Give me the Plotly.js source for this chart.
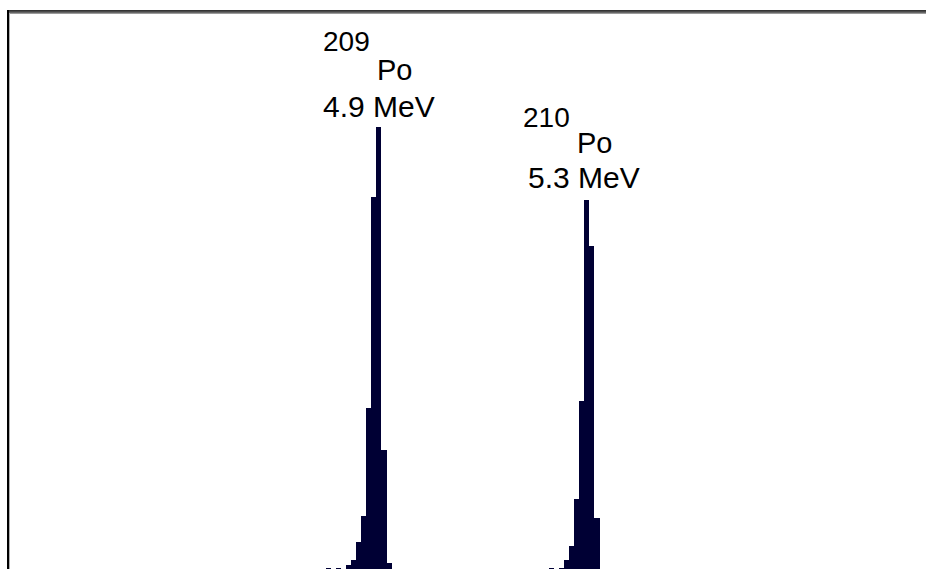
<!DOCTYPE html>
<html>
<head>
<meta charset="utf-8">
<script src="https://cdn.plot.ly/plotly-3.0.1.min.js"></script>
<style>
  html, body { margin: 0; padding: 0; background: #ffffff; }
  #chart { width: 926px; height: 569px; }
</style>
</head>
<body>
<div id="chart"></div>
<script>
// Histogram bins (MeV, bin centres) and counts
const energies = [4.78, 4.79, 4.80, 4.81, 4.82, 4.83, 4.84, 4.85, 4.86, 4.87, 4.88, 4.89, 4.90,
                  5.22, 5.23, 5.24, 5.25, 5.26, 5.27, 5.28, 5.29, 5.30, 5.31];
const counts   = [1, 0, 1, 0, 4.5, 9, 27, 53, 161, 372, 442, 119, 6,
                  1, 0, 1.5, 9, 23, 70, 168, 369, 323, 51];
const binWidth = 0.01;

// Peak labels
const isotopes   = ['209', '210'];
const element    = ['Po', 'Po'];
const peakLabels = ['4.9 MeV', '5.3 MeV'];

// label anchor positions (data coords)
const isoX   = [4.8160, 5.2105], isoY   = [528, 452];
const elemX  = [4.9097, 5.3061], elemY  = [499, 426];
const enerX  = [4.8791, 5.2844], enerY  = [462.5, 391.5];

const W = 926, H = 569;
const M = {l: 10, r: 0, t: 14, b: 0};
const PW = W - M.l - M.r, PH = H - M.t - M.b;
const px = x => (x - M.l) / PW;
const py = y => (H - M.b - y) / PH;

const font = 'Liberation Sans, Arial, sans-serif';
const annotations = [];
for (let i = 0; i < isotopes.length; i++) {
  annotations.push({x: isoX[i], y: isoY[i], xref: 'x', yref: 'y', text: isotopes[i],
    showarrow: false, xanchor: 'center', yanchor: 'middle', font: {family: font, size: 28, color: '#000'}});
  annotations.push({x: elemX[i], y: elemY[i], xref: 'x', yref: 'y', text: element[i],
    showarrow: false, xanchor: 'center', yanchor: 'middle', font: {family: font, size: 29, color: '#000'}});
  annotations.push({x: enerX[i], y: enerY[i], xref: 'x', yref: 'y', text: peakLabels[i],
    showarrow: false, xanchor: 'center', yanchor: 'middle', font: {family: font, size: 30, color: '#000'}});
}

const shapes = [
  {type: 'line', xref: 'paper', yref: 'paper', x0: px(7), x1: px(W), y0: py(10.5), y1: py(10.5), line: {color: '#333333', width: 1}},
  {type: 'line', xref: 'paper', yref: 'paper', x0: px(7), x1: px(W), y0: py(11.5), y1: py(11.5), line: {color: '#4a4a4a', width: 1}},
  {type: 'line', xref: 'paper', yref: 'paper', x0: px(7), x1: px(W), y0: py(12.5), y1: py(12.5), line: {color: '#666666', width: 1}},
  {type: 'line', xref: 'paper', yref: 'paper', x0: px(9), x1: px(W), y0: py(13.5), y1: py(13.5), line: {color: '#9a9a9a', width: 1}},
  {type: 'line', xref: 'paper', yref: 'paper', x0: px(8), x1: px(8), y0: py(10), y1: py(H), line: {color: '#000000', width: 2}},
  {type: 'line', xref: 'paper', yref: 'paper', x0: px(9.5), x1: px(9.5), y0: py(13), y1: py(H), line: {color: '#b0b0b0', width: 1}}
];

const trace = {
  type: 'bar', x: energies, y: counts, width: binWidth,
  marker: {color: '#000034', line: {width: 0}},
  hoverinfo: 'skip'
};

const layout = {
  width: W, height: H,
  margin: M,
  paper_bgcolor: '#ffffff', plot_bgcolor: '#ffffff',
  showlegend: false,
  bargap: 0,
  xaxis: {range: [4.15228, 5.95899], visible: false, showgrid: false, zeroline: false, fixedrange: true},
  yaxis: {range: [0, PH], visible: false, showgrid: false, zeroline: false, fixedrange: true},
  annotations: annotations,
  shapes: shapes
};

Plotly.newPlot('chart', [trace], layout, {staticPlot: true, displayModeBar: false});
</script>
</body>
</html>
